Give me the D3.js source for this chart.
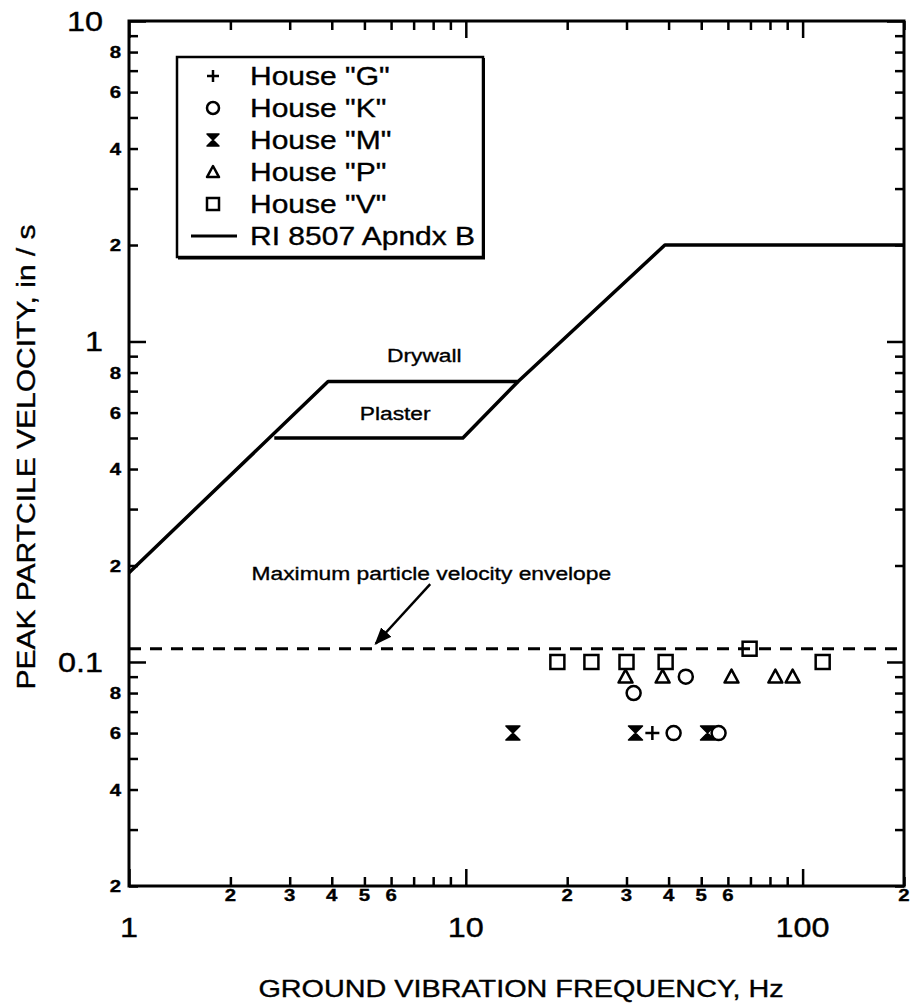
<!DOCTYPE html>
<html>
<head>
<meta charset="utf-8">
<script src="https://cdn.jsdelivr.net/npm/d3@7"></script>
<style>
  body { margin: 0; background: #fff; }
  text { font-family: "Liberation Sans", Arial, Helvetica, sans-serif; fill: #000; stroke: #000; stroke-width: 0.35px; }
</style>
</head>
<body>
<script>
// data: [frequency Hz, peak particle velocity in/s]
const houseG = [[35.8, 0.06]];
const houseK = [[31.5, 0.08], [45, 0.09], [41.4, 0.06], [56.3, 0.06]];
const houseM = [[13.8, 0.06], [31.9, 0.06], [52.2, 0.06]];
const houseP = [[29.8, 0.09], [38.4, 0.09], [61.5, 0.09], [83, 0.09], [93.4, 0.09]];
const houseV = [[18.7, 0.1], [23.6, 0.1], [30, 0.1], [39.2, 0.1], [69.6, 0.11], [114.7, 0.1]];

const drywall = [[1, 0.19], [3.9, 0.75], [14.3, 0.75], [39, 2.0], [200, 2.0]];
const plaster = [[2.7, 0.5], [9.8, 0.5], [14.3, 0.75]];
const envelope = [[1, 0.11], [200, 0.11]];

const legendLabels = ['House "G"', 'House "K"', 'House "M"', 'House "P"', 'House "V"', 'RI 8507 Apndx B'];
const legendKinds = ['plus', 'circle', 'hourglass', 'triangle', 'square', 'line'];

const xMajor = [1, 10, 100];
const xMinor = [2, 3, 4, 5, 6, 7, 8, 9, 20, 30, 40, 50, 60, 70, 80, 90, 200];
const xSmallLabels = [2, 3, 4, 5, 6, 20, 30, 40, 50, 60, 200];
const yMajor = [0.1, 1, 10];
const yMinor = [0.02, 0.03, 0.04, 0.05, 0.06, 0.07, 0.08, 0.09,
  0.2, 0.3, 0.4, 0.5, 0.6, 0.7, 0.8, 0.9, 2, 3, 4, 5, 6, 7, 8, 9];
const ySmallLabels = [0.02, 0.04, 0.06, 0.08, 0.2, 0.4, 0.6, 0.8, 2, 4, 6, 8];
const yBigLabels = [[10, '10'], [1, '1'], [0.1, '0.1']];

const STRETCH = 1.2; // the scanned lettering is wider than Helvetica

function main() {
  const width = 912;
  const height = 1008;
  const svg = d3.select('body').append('svg')
    .attr('width', width)
    .attr('height', height);

  const x = d3.scaleLog().domain([1, 200]).range([129, 904]);
  const y = d3.scaleLog().domain([0.02, 10]).range([886, 21]);

  const label = (g, px, py, str, size, anchor, bold) => g.append('text')
    .attr('transform', `translate(${px},${py}) scale(${STRETCH},1)`)
    .attr('text-anchor', anchor)
    .attr('font-size', size)
    .attr('font-weight', bold ? 'bold' : 'normal')
    .text(str);

  // inward ticks on all four sides
  const tickGroup = (axis, tx, ty) => {
    const g = svg.append('g').attr('transform', `translate(${tx},${ty})`).call(axis);
    g.select('.domain').remove();
    g.selectAll('line').attr('stroke', '#000').attr('stroke-width', 2.5);
    return g;
  };
  tickGroup(d3.axisBottom(x).tickValues(xMajor).tickSize(-17).tickFormat(''), 0, y.range()[0]);
  tickGroup(d3.axisBottom(x).tickValues(xMinor).tickSize(-9).tickFormat(''), 0, y.range()[0]);
  tickGroup(d3.axisTop(x).tickValues(xMajor).tickSize(-17).tickFormat(''), 0, y.range()[1]);
  tickGroup(d3.axisTop(x).tickValues(xMinor).tickSize(-9).tickFormat(''), 0, y.range()[1]);
  tickGroup(d3.axisLeft(y).tickValues(yMajor).tickSize(-17).tickFormat(''), x.range()[0], 0);
  tickGroup(d3.axisLeft(y).tickValues(yMinor).tickSize(-9).tickFormat(''), x.range()[0], 0);
  tickGroup(d3.axisRight(y).tickValues(yMajor).tickSize(-17).tickFormat(''), x.range()[1], 0);
  tickGroup(d3.axisRight(y).tickValues(yMinor).tickSize(-9).tickFormat(''), x.range()[1], 0);

  svg.append('rect')
    .attr('x', x.range()[0])
    .attr('y', y.range()[1])
    .attr('width', x.range()[1] - x.range()[0])
    .attr('height', y.range()[0] - y.range()[1])
    .attr('fill', 'none')
    .attr('stroke', '#000')
    .attr('stroke-width', 3);

  // tick labels
  const lab = svg.append('g');
  const firstDigit = v => String(Math.round(v / Math.pow(10, Math.floor(Math.log10(v) + 1e-9))));
  xSmallLabels.forEach(v => label(lab, x(v), 901, firstDigit(v), 17, 'middle', true));
  xMajor.forEach(v => label(lab, x(v), 937, String(v), 27, 'middle', false));
  ySmallLabels.forEach(v => label(lab, 121, y(v) + 6, firstDigit(v), 17, 'end', true));
  yBigLabels.forEach(d => label(lab, 103, y(d[0]) + 10, d[1], 27, 'end', false));

  // axis titles
  label(svg, 521, 997, 'GROUND VIBRATION FREQUENCY, Hz', 24, 'middle', false);
  svg.append('text')
    .attr('transform', `translate(35,457) rotate(-90) scale(${STRETCH},1)`)
    .attr('text-anchor', 'middle')
    .attr('font-size', 25)
    .text('PEAK PARTCILE VELOCITY, in / s');

  // criteria lines
  const line = d3.line().x(d => x(d[0])).y(d => y(d[1]));
  svg.append('path').attr('d', line(drywall))
    .attr('fill', 'none').attr('stroke', '#000').attr('stroke-width', 3.5)
    .attr('stroke-linejoin', 'round');
  svg.append('path').attr('d', line(plaster))
    .attr('fill', 'none').attr('stroke', '#000').attr('stroke-width', 3.5)
    .attr('stroke-linejoin', 'round');
  svg.append('path').attr('d', line(envelope))
    .attr('fill', 'none').attr('stroke', '#000').attr('stroke-width', 3)
    .attr('stroke-dasharray', '12,9');

  label(svg, x(7.53), y(0.863), 'Drywall', 19, 'middle', false);
  label(svg, x(6.17), y(0.569), 'Plaster', 19, 'middle', false);
  label(svg, x(7.9), y(0.18), 'Maximum particle velocity envelope', 19, 'middle', false);

  // arrow to the envelope
  svg.append('defs').append('marker')
    .attr('id', 'head')
    .attr('viewBox', '0 0 10 10')
    .attr('refX', 9).attr('refY', 5)
    .attr('markerWidth', 7).attr('markerHeight', 7)
    .attr('markerUnits', 'strokeWidth')
    .attr('orient', 'auto')
    .append('path').attr('d', 'M0,1L10,5L0,9Z').attr('fill', '#000');
  svg.append('line')
    .attr('x1', x(7.84)).attr('y1', y(0.175))
    .attr('x2', x(5.4)).attr('y2', y(0.114))
    .attr('stroke', '#000').attr('stroke-width', 2.5)
    .attr('marker-end', 'url(#head)');

  // markers
  const symbol = (g, kind, s) => {
    if (kind === 'plus') {
      g.append('path').attr('d', `M${-s},0H${s}M0,${-s}V${s}`)
        .attr('stroke', '#000').attr('stroke-width', 2.5).attr('fill', 'none');
    } else if (kind === 'circle') {
      g.append('circle').attr('r', s)
        .attr('stroke', '#000').attr('stroke-width', 2.5).attr('fill', 'none');
    } else if (kind === 'hourglass') {
      g.append('path').attr('d', `M${-s},${-s}H${s}L0,0ZM${-s},${s}H${s}L0,0Z`)
        .attr('stroke', '#000').attr('stroke-width', 1.5).attr('fill', '#000')
        .attr('stroke-linejoin', 'round');
    } else if (kind === 'triangle') {
      g.append('path').attr('d', `M0,${-s}L${s},${s * 0.85}L${-s},${s * 0.85}Z`)
        .attr('stroke', '#000').attr('stroke-width', 2.5).attr('fill', 'none')
        .attr('stroke-linejoin', 'round');
    } else if (kind === 'square') {
      g.append('rect').attr('x', -s).attr('y', -s).attr('width', 2 * s).attr('height', 2 * s)
        .attr('stroke', '#000').attr('stroke-width', 2.5).attr('fill', 'none');
    } else if (kind === 'line') {
      g.append('path').attr('d', `M${-23},0H${23}`)
        .attr('stroke', '#000').attr('stroke-width', 3);
    }
  };

  const series = [[houseV, 'square'], [houseP, 'triangle'], [houseK, 'circle'],
    [houseM, 'hourglass'], [houseG, 'plus']];
  series.forEach(([pts, kind]) => {
    svg.append('g')
      .selectAll('g')
      .data(pts)
      .enter()
      .append('g')
      .attr('transform', d => `translate(${x(d[0])},${y(d[1])})`)
      .each(function () { symbol(d3.select(this), kind, 7); });
  });

  // legend
  const leg = svg.append('g');
  leg.append('rect')
    .attr('x', 177).attr('y', 57).attr('width', 306).attr('height', 200)
    .attr('fill', '#fff').attr('stroke', '#000').attr('stroke-width', 2.5);
  leg.append('path').attr('d', 'M178,258.5H484V58')
    .attr('fill', 'none').attr('stroke', '#000').attr('stroke-width', 2);
  legendLabels.forEach((t, i) => {
    const cy = 76 + i * 32;
    const g = leg.append('g').attr('transform', `translate(${legendKinds[i] === 'line' ? 214 : 213},${cy})`);
    symbol(g, legendKinds[i], 6);
    label(leg, 250, cy + 9, t, 25, 'start', false);
  });
}

main();
</script>
</body>
</html>
